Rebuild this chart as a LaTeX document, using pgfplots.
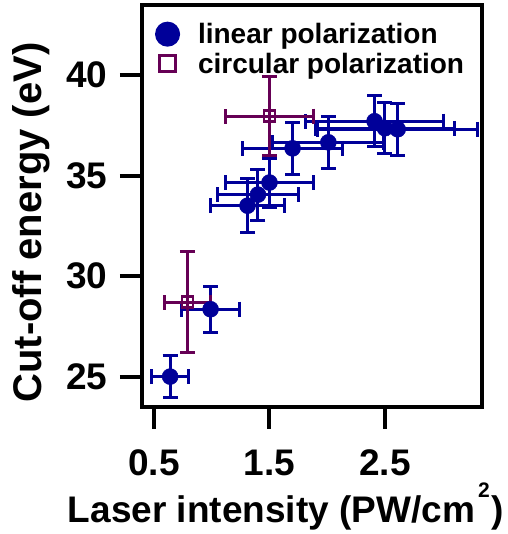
\documentclass[border=0pt]{standalone}
\usepackage{pgfplots}
\pgfplotsset{compat=1.18}
\usepackage{fontspec}
\setmainfont{Liberation Sans}
\definecolor{linblue}{RGB}{0,0,153}
\definecolor{circpurple}{RGB}{102,0,85}
\begin{document}
\begin{tikzpicture}
\begin{axis}[
  scale only axis,
  width=340pt, height=402pt,
  xmin=0.396, xmax=3.34,
  ymin=23.49, ymax=43.48,
  xtick={0.5,1.5,2.5},
  ytick={25,30,35,40},
  xticklabels={0.5,1.5,2.5},
  tick pos=left,
  tick align=outside,
  major tick length=22pt,
  tick style={line width=4pt, black},
  axis line style={line width=4pt},
  /pgf/number format/assume math mode=true,
  tick label style={font=\fontsize{37}{42}\selectfont\bfseries},
  yticklabel style={anchor=east, xshift=-9pt},
  xticklabel style={anchor=base, yshift=-47pt},
  xlabel={Laser intensity (PW/cm\hspace{3pt}\raisebox{25pt}{\fontsize{21}{21}\selectfont 2}\hspace{2pt})},
  ylabel={Cut-off energy (eV)},
  xlabel style={font=\fontsize{37}{42}\selectfont\bfseries, at={(axis description cs:0.4235,-0.2886)}, anchor=base},
  ylabel style={font=\fontsize{40}{46}\selectfont\bfseries, at={(axis description cs:-0.325,0.459)}, anchor=center},
  legend style={at={(axis description cs:0.032,0.965)}, anchor=north west, draw=none, fill=none,
    font=\fontsize{28}{32}\selectfont\bfseries, row sep=4pt, column sep=16pt, inner sep=2pt},
  legend cell align=left,
  clip=false,
]
\addplot+[only marks, mark=*, mark size=8pt, color=linblue, line width=3pt, mark options={fill=linblue, draw=linblue, line width=0.5pt},
  legend image code/.code={\fill[linblue] (0.3cm,0cm) circle (11pt);},
  error bars/.cd, x dir=both, y dir=both, x explicit, y explicit,
  error bar style={line width=3pt, color=linblue},
  error mark options={rotate=90, mark size=7.5pt, line width=3pt, color=linblue}]
  table[x=x, y=y, x error=ex, y error=ey] {
x y ex ey
0.64 25.0 0.16 1.05
0.99 28.35 0.25 1.15
1.31 33.5 0.32 1.35
1.40 34.05 0.35 1.27
1.50 34.65 0.38 1.22
1.70 36.35 0.43 1.3
2.01 36.65 0.48 1.3
2.41 37.7 0.6 1.28
2.50 37.35 0.6 1.28
2.61 37.3 0.69 1.3
};
\addlegendentry{linear polarization}
\addplot+[only marks, mark=square, mark size=5.5pt, color=circpurple, line width=3pt, mark options={draw=circpurple, fill=none, line width=2.5pt},
  legend image code/.code={\draw[circpurple, line width=3pt] (0.3cm,0cm) ++(-8pt,-8pt) rectangle ++(16pt,16pt);},
  error bars/.cd, x dir=both, y dir=both, x explicit, y explicit,
  error bar style={line width=3pt, color=circpurple},
  error mark options={rotate=90, mark size=7.5pt, line width=3pt, color=circpurple}]
  table[x=x, y=y, x error=ex, y error=ey] {
x y ex ey
0.79 28.7 0.195 2.5
1.50 37.95 0.38 1.95
};
\addlegendentry{circular polarization}
\path (rel axis cs:-0.4176,-0.3159) rectangle (rel axis cs:1.0735,1.0124);
\end{axis}
\end{tikzpicture}
\end{document}
